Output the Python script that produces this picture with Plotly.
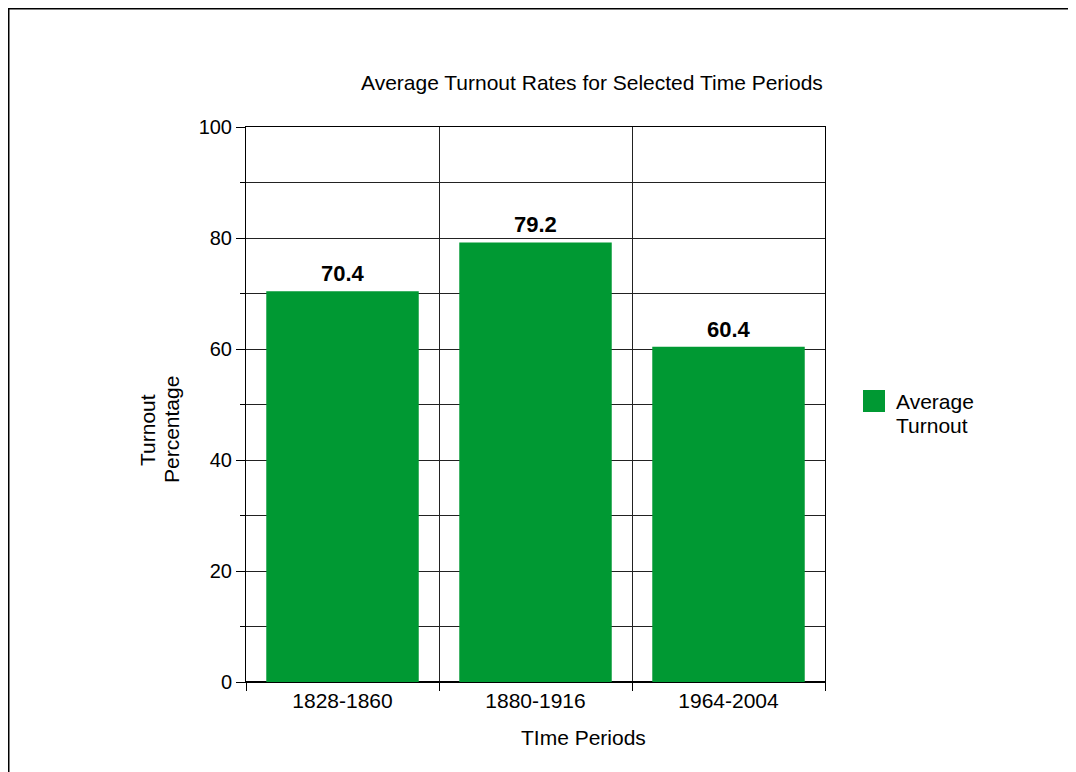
import plotly.graph_objects as go

categories = ["1828-1860", "1880-1916", "1964-2004"]
turnout = [70.4, 79.2, 60.4]
series_name = "Average Turnout"
title_text = "Average Turnout Rates for Selected Time Periods"
x_title = "TIme Periods"
y_title_lines = ["Turnout", "Percentage"]
legend_lines = ["Average", "Turnout"]
y_ticks = [0, 20, 40, 60, 80, 100]

GREEN = "#009933"
FONT = "Liberation Sans, Arial, Helvetica, sans-serif"
OFF = 8  # page body margin
W, H = 1076 - OFF, 772 - OFF
L, T = 246 - OFF, 127 - OFF
R = W - (825 - OFF)
B = H - (682 - OFF)
pw, ph = W - L - R, H - T - B

def px_x(p):  # screen pixel -> paper
    return (p - OFF - L) / pw

def px_y(p):
    return (H - B - (p - OFF)) / ph

fig = go.Figure()
fig.add_trace(go.Bar(
    x=categories, y=turnout, name=series_name,
    marker=dict(color=GREEN, line=dict(width=0)),
    showlegend=False,
))

for c, v in zip(categories, turnout):
    fig.add_annotation(x=c, y=v, text=f"<b>{v:.1f}</b>", showarrow=False,
                       xanchor="center", yanchor="bottom", yshift=3,
                       font=dict(size=22, color="black", family=FONT))

fig.update_layout(
    width=W, height=H,
    margin=dict(l=L, r=R, t=T, b=B),
    paper_bgcolor="white", plot_bgcolor="white",
    font=dict(family=FONT, size=21, color="black"),
    bargap=0.21,
    showlegend=False,
)

fig.update_xaxes(
    type="category", tickson="boundaries",
    ticks="outside", ticklen=8, tickcolor="black", tickwidth=1,
    showgrid=True, gridcolor="#222", gridwidth=1,
    showline=True, linecolor="black", linewidth=1, mirror=True,
    tickfont=dict(size=21, family=FONT),
)
fig.update_yaxes(
    range=[0, 100], tickvals=y_ticks,
    ticks="outside", ticklen=9, tickcolor="black", tickwidth=1,
    showgrid=True, gridcolor="#222", gridwidth=1,
    minor=dict(dtick=10, ticks="outside", ticklen=5, tickcolor="black",
               showgrid=True, gridcolor="#222", gridwidth=1),
    showline=True, linecolor="black", linewidth=1, mirror=True,
    zeroline=True, zerolinecolor="black", zerolinewidth=2,
    tickfont=dict(size=20, family=FONT),
    fixedrange=True,
)

# title
fig.add_annotation(xref="paper", yref="paper", x=1.0, y=px_y(83),
                   text=title_text, showarrow=False, xanchor="right", yanchor="middle",
                   font=dict(size=21, family=FONT))
# x title
fig.add_annotation(xref="paper", yref="paper", x=px_x(583), y=px_y(737),
                   text=x_title, showarrow=False, xanchor="center", yanchor="middle",
                   font=dict(size=21, family=FONT))
# y title (two lines)
for line, xc in zip(y_title_lines, [147, 171]):
    fig.add_annotation(xref="paper", yref="paper", x=px_x(xc), y=px_y(430),
                       text=line, showarrow=False, textangle=-90,
                       xanchor="center", yanchor="middle",
                       font=dict(size=21, family=FONT))

# legend (manual)
fig.add_shape(type="rect", xref="paper", yref="paper",
              x0=px_x(863), x1=px_x(885), y0=px_y(412), y1=px_y(390),
              fillcolor=GREEN, line=dict(width=0))
for line, yc in zip(legend_lines, [401, 425]):
    fig.add_annotation(xref="paper", yref="paper", x=px_x(894), y=px_y(yc),
                       text=line, showarrow=False,
                       xanchor="left", yanchor="middle", align="left",
                       font=dict(size=21, family=FONT))

# page frame (left and top edges only visible)
fig.add_shape(type="line", xref="paper", yref="paper",
              x0=px_x(8.5), x1=px_x(8.5), y0=px_y(8.5), y1=px_y(1000),
              line=dict(color="black", width=2), layer="above")
fig.add_shape(type="line", xref="paper", yref="paper",
              x0=px_x(7.5), x1=px_x(1300), y0=px_y(8.5), y1=px_y(8.5),
              line=dict(color="black", width=2), layer="above")

fig.write_html("out.html", config={"displayModeBar": False})
